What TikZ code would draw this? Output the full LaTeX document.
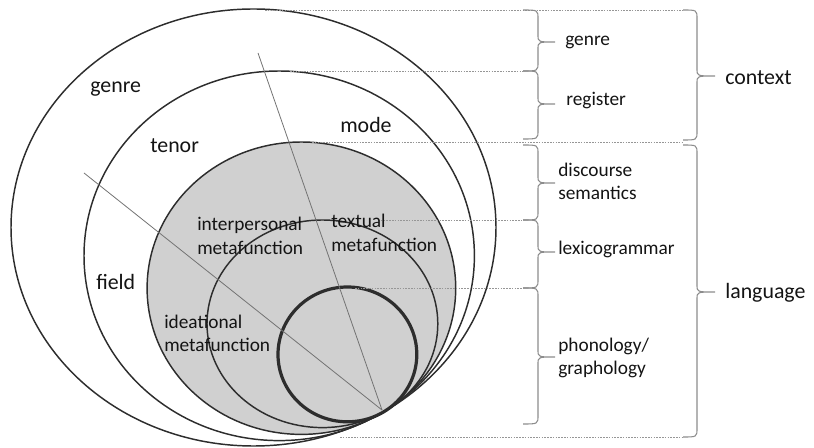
\documentclass[tikz,border=0pt]{standalone}
\usepackage{fontspec}
\setmainfont{Carlito}
\definecolor{fillgray}{RGB}{208,208,208}
\definecolor{ringcol}{RGB}{45,45,45}
\definecolor{dashcol}{RGB}{150,150,150}
\definecolor{bracecol}{RGB}{140,140,140}
\definecolor{divcol}{RGB}{115,115,115}
\definecolor{textcol}{RGB}{20,20,20}
\tikzset{
  ring/.style={draw=ringcol, line width=1.1pt},
  thickring/.style={draw=ringcol, line width=2.4pt},
  divline/.style={draw=divcol, line width=0.6pt},
  dashline/.style={draw=dashcol, line width=0.7pt, dash pattern=on 1.2pt off 0.9pt},
  bracestyle/.style={draw=bracecol, line width=0.8pt},
  biglbl/.style={font=\fontsize{16.4}{19}\selectfont, text=textcol, inner sep=0pt, anchor=base west},
  smalllbl/.style={font=\fontsize{14.5}{17}\selectfont, text=textcol, inner sep=0pt, anchor=base west}
}
\newcommand\SFLbrace[6]{%
  \draw[bracestyle] (#1,#2) .. controls (#5,#2) .. (#5,#2+9) -- (#5,#4-7)
    .. controls (#5,#4) .. (#6,#4) .. controls (#5,#4) .. (#5,#4+7)
    -- (#5,#3-9) .. controls (#5,#3) .. (#1,#3);}
\begin{document}
\begin{tikzpicture}[x=0.75pt,y=-0.75pt]
\useasboundingbox (0,0) rectangle (814,448);
% nested ellipses
\draw[ring] (253.5,227.5) ellipse [x radius=242.5, y radius=218.5];
\draw[ring] (279.2,255.8) ellipse [x radius=195.2, y radius=184.8];
\draw[ring, fill=fillgray] (301.4,288.2) ellipse [x radius=154.3, y radius=146.2];
\draw[ring] (322.4,323.8) ellipse [x radius=115.4, y radius=103.8];
\draw[thickring] (347.4,354.4) ellipse [x radius=69.4, y radius=67.4];
% dividing lines
\coordinate (apex) at (382,410);
\coordinate (dtop) at (258,53);
\coordinate (dleft) at (84,173);
\draw[divline] (dtop) -- (apex);
\draw[divline] (dleft) -- (apex);
% dashed level lines
\coordinate (l1a) at (265,10);  \coordinate (l1b) at (683,10);
\coordinate (l2a) at (290,71);  \coordinate (l2b) at (523,71);
\coordinate (l3a) at (312,142); \coordinate (l3b) at (683,142);
\coordinate (l4a) at (378,220); \coordinate (l4b) at (523,220);
\coordinate (l5a) at (355,288); \coordinate (l5b) at (523,288);
\coordinate (l6a) at (340,437); \coordinate (l6b) at (683,437);
\draw[dashline] (l1a) -- (l1b);
\draw[dashline] (l2a) -- (l2b);
\draw[dashline] (l3a) -- (l3b);
\draw[dashline] (l4a) -- (l4b);
\draw[dashline] (l5a) -- (l5b);
\draw[dashline] (l6a) -- (l6b);
% braces
\SFLbrace{523}{10}{71}{42}{538}{555}
\SFLbrace{523}{71}{139}{104}{538}{555}
\SFLbrace{523}{145}{220}{183}{538}{555}
\SFLbrace{523}{220}{288}{252}{538}{555}
\SFLbrace{523}{288}{424}{357}{538}{555}
\SFLbrace{683}{10}{140}{76}{697}{715}
\SFLbrace{683}{145}{437}{292}{697}{715}
% labels in the rings
\node[biglbl] (genreL) at (90,93) {genre};
\node[biglbl] (tenor) at (150,153) {tenor};
\node[biglbl] (mode) at (340,133) {mode};
\node[biglbl] (field) at (96,290) {field};
\node[smalllbl] (inter1) at (197,231) {interpersonal};
\node[smalllbl] (inter2) at (197,255) {metafunction};
\node[smalllbl] (text1) at (331,228) {textual};
\node[smalllbl] (text2) at (331,252) {metafunction};
\node[smalllbl] (idea1) at (164,329) {ideational};
\node[smalllbl] (idea2) at (164,352) {metafunction};
% labels at the braces
\node[smalllbl] (genreR) at (565,46) {genre};
\node[smalllbl] (register) at (566,106) {register};
\node[smalllbl] (disc1) at (558,177) {discourse};
\node[smalllbl] (disc2) at (558,200) {semantics};
\node[smalllbl] (lexico) at (558,255) {lexicogrammar};
\node[smalllbl] (phon1) at (558,352) {phonology/};
\node[smalllbl] (phon2) at (558,375) {graphology};
\node[biglbl] (context) at (725,85) {context};
\node[biglbl] (language) at (725,299) {language};
\end{tikzpicture}
\end{document}
